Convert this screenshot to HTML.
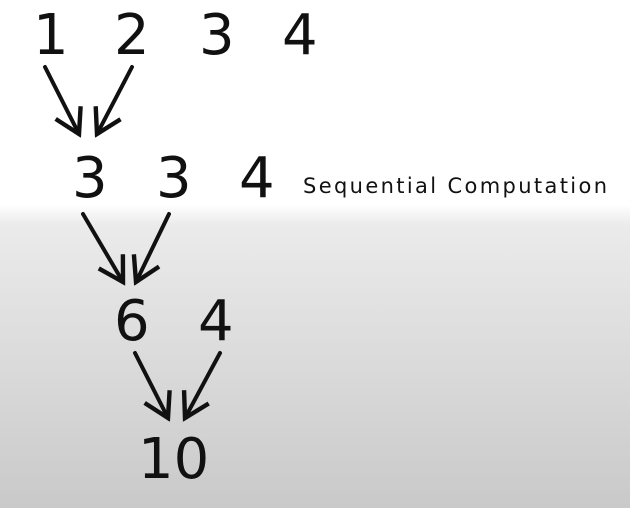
<!DOCTYPE html>
<html><head><meta charset="utf-8"><style>
html,body{margin:0;padding:0;width:630px;height:508px;overflow:hidden}
body{background:linear-gradient(to bottom,#ffffff 0px,#ffffff 205px,#ebebeb 225px,#c9c9c9 508px)}
svg{position:absolute;left:0;top:0}
text{font-family:"DejaVu Sans","Liberation Sans",sans-serif;fill:#111}
</style></head><body>
<svg width="630" height="508">
<defs><marker id="ah" markerWidth="8" markerHeight="8" refX="7" refY="4" orient="auto" markerUnits="strokeWidth"><path d="M1,0.5 L7,4 L1,7.5" fill="none" stroke="#111" stroke-width="1.1"/></marker></defs>
<g font-size="56">
<text x="33" y="54">1</text>
<text x="114" y="54">2</text>
<text x="199" y="54">3</text>
<text x="282" y="54">4</text>
<text x="72" y="197">3</text>
<text x="156" y="197">3</text>
<text x="239" y="197">4</text>
<text x="114" y="340">6</text>
<text x="198" y="340">4</text>
<text x="138" y="478">10</text>
</g>
<text x="303" y="193" font-size="21" textLength="304" lengthAdjust="spacing">Sequential Computation</text>
<g stroke="#111" stroke-width="4" stroke-linecap="round" marker-end="url(#ah)">
<line x1="45" y1="67" x2="79" y2="134"/>
<line x1="132" y1="67" x2="97" y2="134"/>
<line x1="83" y1="214" x2="123" y2="282"/>
<line x1="169" y1="214" x2="136" y2="282"/>
<line x1="135" y1="353" x2="168" y2="418"/>
<line x1="220" y1="353" x2="185" y2="418"/>
</g>
</svg>
</body></html>
